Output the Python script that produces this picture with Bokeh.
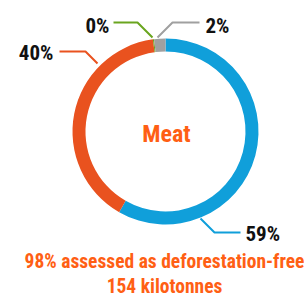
import math
from bokeh.plotting import figure
from bokeh.models import Range1d, ColumnDataSource
from bokeh.core.properties import value
from bokeh.embed import file_html
from bokeh.resources import INLINE

# ---- data ----
categories = ["Deforestation-free (verified)", "Deforestation-free (assessed)", "Not free", "Unknown"]
shares = [59, 40, 0.2, 2]
share_labels = ["59%", "40%", "0%", "2%"]
colors = ["#109fda", "#e9521f", "#6aa51f", "#a0a0a0"]
center_title = "Meat"
footer_lines = ["98% assessed as deforestation-free", "154 kilotonnes"]

W, H = 304, 297
FONT = "'Roboto Condensed', 'Open Sans Condensed', Roboto"
ORANGE_TXT = "#ff5f14"

p = figure(width=W, height=H, output_backend="svg", toolbar_location=None,
           x_range=Range1d(0, W), y_range=Range1d(H, 0),
           min_border=0, outline_line_color=None)
p.axis.visible = False
p.grid.visible = False
p.background_fill_color = "white"
p.border_fill_color = "white"

cx, cy = 165, 131
r_in, r_out = 80, 93

total = sum(shares)
starts, ends = [], []
acc = 0.0
for s in shares:
    starts.append(math.pi / 2 - acc / total * 2 * math.pi)
    acc += s
    ends.append(math.pi / 2 - acc / total * 2 * math.pi)

src = ColumnDataSource(dict(start=starts, end=ends, color=colors, cat=categories))
p.annular_wedge(x=cx, y=cy, inner_radius=r_in, outer_radius=r_out,
                inner_radius_units="screen", outer_radius_units="screen",
                start_angle="start", end_angle="end", direction="clock",
                color="color", source=src, line_color=None)

# leader lines (layout) : index -> polyline in page pixels
leaders = {
    0: ([200, 214, 240], [218, 232, 232]),
    1: ([97, 85, 59], [63, 51, 51]),
    2: ([152, 137, 113], [37, 22, 22]),
    3: ([157, 172, 199], [37, 22, 22]),
}
label_pos = {0: (245, 233, "left"), 1: (53, 52, "right"), 2: (109, 25, "right"), 3: (205, 25, "left")}
for i, (xs, ys) in leaders.items():
    p.line(xs, ys, line_color=colors[i], line_width=2)
    lx, ly, al = label_pos[i]
    p.text(x=[lx], y=[ly], text=[share_labels[i]], text_font=value(FONT),
           text_font_style="bold", text_font_size="21px", text_color="#111111",
           text_align=al, text_baseline="middle")

p.text(x=[166], y=[133], text=[center_title], text_font=value(FONT), text_font_style="bold",
       text_font_size="24px", text_color=ORANGE_TXT, text_align="center", text_baseline="middle")
p.text(x=[164, 164], y=[261, 286], text=footer_lines, text_font=value(FONT), text_font_style="bold",
       text_font_size="19.5px", text_color=ORANGE_TXT, text_align="center", text_baseline="middle")

open("out.html", "w").write(file_html(p, INLINE))
